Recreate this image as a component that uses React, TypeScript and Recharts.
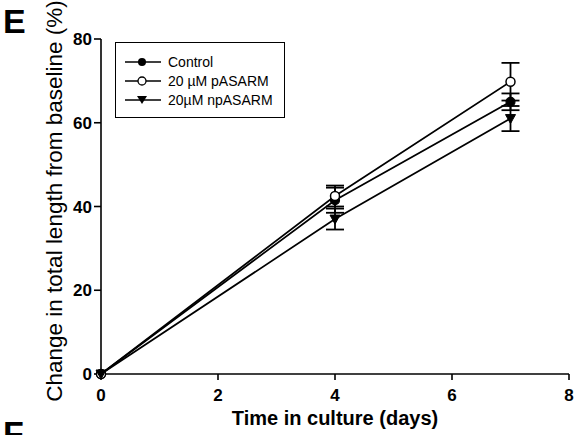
import { LineChart, Line, XAxis, YAxis, ErrorBar, Legend } from "recharts"

const days = [0, 4, 7]
const control = [0, 41.5, 65]
const controlErr = [0, 3, 2]
const pAsarm = [0, 42.5, 69.8]
const pAsarmErr = [0, 2.5, 4.5]
const npAsarm = [0, 37, 61]
const npAsarmErr = [0, 2.5, 3]

const xTicks = [0, 2, 4, 6, 8]
const yTicks = [0, 20, 40, 60, 80]

const data = days.map((d, i) => ({
    day: d,
    control: control[i],
    controlErr: controlErr[i],
    pAsarm: pAsarm[i],
    pAsarmErr: pAsarmErr[i],
    npAsarm: npAsarm[i],
    npAsarmErr: npAsarmErr[i],
}))

const FONT = "'Liberation Sans', Arial, sans-serif"

const FilledDot = (p: any) => <circle key={p.index} cx={p.cx} cy={p.cy} r={4.5} fill="#000" stroke="#000" strokeWidth={1.2} />
const OpenDot = (p: any) => <circle key={p.index} cx={p.cx} cy={p.cy} r={4.5} fill="#fff" stroke="#000" strokeWidth={1.5} />
const TriDot = (p: any) => (
    <path key={p.index} d={`M${p.cx - 5},${p.cy - 4} L${p.cx + 5},${p.cy - 4} L${p.cx},${p.cy + 5} Z`} fill="#000" stroke="#000" strokeWidth={1} />
)

const series = [
    { name: "Control", marker: "filled" },
    { name: "20 µM pASARM", marker: "open" },
    { name: "20µM npASARM", marker: "tri" },
]

function LegendBox() {
    return (
        <div style={{ border: "1.4px solid #000", background: "#fff", width: 170, height: 76, boxSizing: "border-box", padding: "9px 0 0 9px", fontFamily: FONT, fontSize: 14, textAlign: "left", lineHeight: "18px" }}>
            {series.map((s) => (
                <div key={s.name} style={{ display: "flex", alignItems: "center", height: 19 }}>
                    <svg width={36} height={12} style={{ flex: "none" }}>
                        <line x1={0} y1={6} x2={36} y2={6} stroke="#000" strokeWidth={1.6} />
                        {s.marker === "filled" && <circle cx={17} cy={6} r={4} fill="#000" />}
                        {s.marker === "open" && <circle cx={17} cy={6} r={4} fill="#fff" stroke="#000" strokeWidth={1.3} />}
                        {s.marker === "tri" && <path d="M12,2 L22,2 L17,10 Z" fill="#000" />}
                    </svg>
                    <span style={{ marginLeft: 7 }}>{s.name}</span>
                </div>
            ))}
        </div>
    )
}

const YTitle = () => (
    <text x={62} y={201} transform="rotate(-90 62 201)" textAnchor="middle" fill="#000" fontSize={22.5} fontFamily={FONT}>
        Change in total length from baseline (%)
    </text>
)

export default function App() {
    return (
        <div style={{ position: "absolute", left: 0, top: 0, width: 585, height: 435, background: "#fff", overflow: "hidden" }}>
            <LineChart width={585} height={435} data={data} margin={{ top: 39, right: 16, bottom: 31, left: 0 }}>
                <XAxis
                    dataKey="day"
                    type="number"
                    domain={[0, 8]}
                    ticks={xTicks}
                    height={30}
                    tickSize={6}
                    stroke="#000"
                    strokeWidth={1.6}
                    tick={{ fill: "#000", fontSize: 17, fontWeight: "bold", fontFamily: FONT, dy: 7 }}
                    label={{ value: "Time in culture (days)", position: "insideBottom", offset: -21, fill: "#000", fontSize: 20, fontWeight: "bold", fontFamily: FONT }}
                />
                <YAxis
                    type="number"
                    domain={[0, 80]}
                    ticks={yTicks}
                    width={101}
                    tickSize={7}
                    stroke="#000"
                    strokeWidth={1.6}
                    tick={{ fill: "#000", fontSize: 17, fontWeight: "bold", fontFamily: FONT }}
                    label={{ content: YTitle }}
                />
                <Legend content={() => <LegendBox />} layout="horizontal" verticalAlign="middle" align="center" wrapperStyle={{ left: 115, top: 42, width: 170, height: 76 }} />
                <Line dataKey="control" stroke="#000" strokeWidth={1.7} dot={FilledDot} isAnimationActive={false}>
                    <ErrorBar dataKey="controlErr" width={9} stroke="#000" strokeWidth={1.8} direction="y" />
                </Line>
                <Line dataKey="pAsarm" stroke="#000" strokeWidth={1.7} dot={OpenDot} isAnimationActive={false}>
                    <ErrorBar dataKey="pAsarmErr" width={9} stroke="#000" strokeWidth={1.8} direction="y" />
                </Line>
                <Line dataKey="npAsarm" stroke="#000" strokeWidth={1.7} dot={TriDot} isAnimationActive={false}>
                    <ErrorBar dataKey="npAsarmErr" width={9} stroke="#000" strokeWidth={1.8} direction="y" />
                </Line>
            </LineChart>
            <div style={{ position: "absolute", left: 3, top: 2, fontFamily: FONT, fontSize: 34, fontWeight: "bold", lineHeight: "38px" }}>E</div>
            <div style={{ position: "absolute", left: 3, top: 414, fontFamily: FONT, fontSize: 34, fontWeight: "bold", lineHeight: "38px" }}>F</div>
        </div>
    )
}
